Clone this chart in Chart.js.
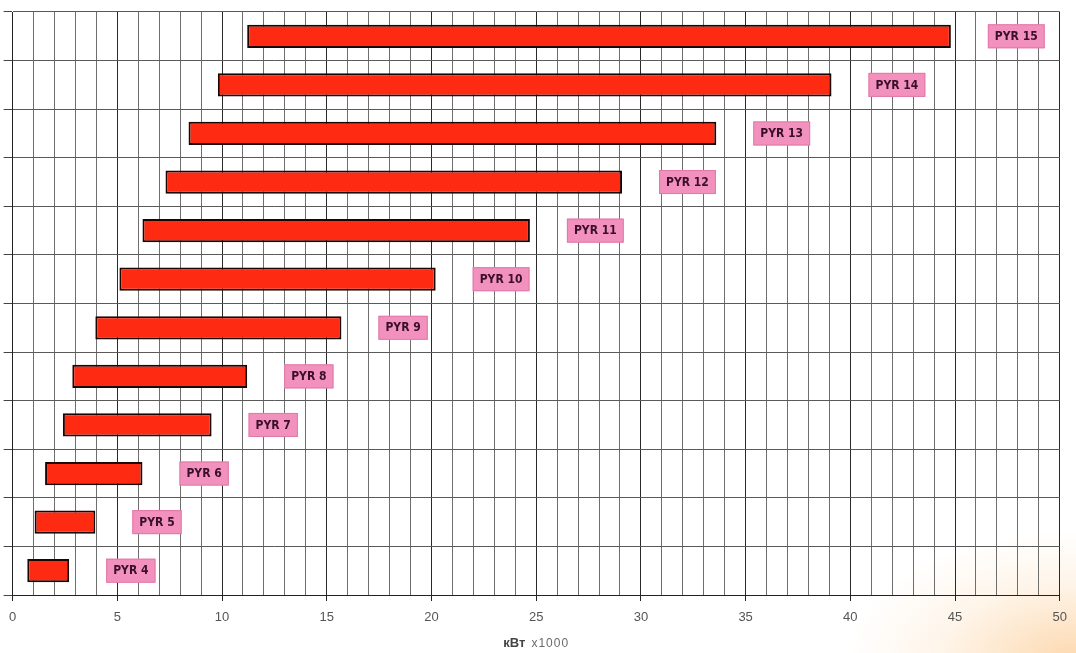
<!DOCTYPE html>
<html>
<head>
<meta charset="utf-8">
<script src="https://cdn.jsdelivr.net/npm/chart.js@4.4.1/dist/chart.umd.min.js"></script>
<style>
  html, body { margin: 0; padding: 0; }
  body {
    width: 1076px; height: 653px; overflow: hidden;
    background:
      radial-gradient(ellipse 230px 130px at 1076px 660px, rgba(252, 200, 140, 0.7), rgba(252, 215, 170, 0.25) 60%, rgba(255, 255, 255, 0) 100%),
      #ffffff;
  }
  #wrap { position: relative; width: 1076px; height: 653px; }
</style>
</head>
<body>
<div id="wrap"><canvas id="chart" width="1076" height="653"></canvas></div>
<script>
// Burner models, top to bottom
const categories = ['PYR 15', 'PYR 14', 'PYR 13', 'PYR 12', 'PYR 11', 'PYR 10',
                    'PYR 9', 'PYR 8', 'PYR 7', 'PYR 6', 'PYR 5', 'PYR 4'];
// Power range of each model, kW x1000
const rangeStart = [11.2, 9.8, 8.4, 7.3, 6.2, 5.1, 3.95, 2.85, 2.4, 1.55, 1.05, 0.7];
const rangeEnd   = [44.8, 39.1, 33.6, 29.1, 24.7, 20.2, 15.7, 11.2, 9.5, 6.2, 3.95, 2.7];
// Axis
const axisMin = 0;
const axisMax = 50;
const labelEvery = 5;
const axisUnit = 'кВт';
const axisScale = 'x1000';

const ranges = categories.map((c, i) => [rangeStart[i], rangeEnd[i]]);

// Pink tag with the model name, placed past the end of each bar
const modelTags = {
  id: 'modelTags',
  afterDatasetsDraw(chart) {
    const ctx = chart.ctx;
    const meta = chart.getDatasetMeta(0);
    ctx.save();
    ctx.font = 'bold 12px "Liberation Sans Narrow", "DejaVu Sans Condensed", "Roboto Condensed", "Liberation Sans", sans-serif';
    ctx.textBaseline = 'middle';
    ctx.textAlign = 'center';
    meta.data.forEach((bar, i) => {
      const text = categories[i];
      const w = ctx.measureText(text).width + 14;
      const h = 24;
      const x0 = bar.x + 37;
      const y0 = bar.y - h / 2;
      ctx.fillStyle = '#f291bd';
      ctx.fillRect(x0, y0, w, h);
      ctx.strokeStyle = '#e07aa8';
      ctx.lineWidth = 1;
      ctx.strokeRect(x0 + 0.5, y0 + 0.5, w - 1, h - 1);
      ctx.fillStyle = '#3a0f2a';
      ctx.fillText(text, x0 + w / 2, bar.y + 0.5);
    });
    ctx.restore();
  }
};

// Axis caption: bold unit followed by the multiplier
const axisCaption = {
  id: 'axisCaption',
  afterDraw(chart) {
    const ctx = chart.ctx;
    const area = chart.chartArea;
    ctx.save();
    const boldFont = 'bold 13px "Liberation Sans", Arial, sans-serif';
    const normFont = '12px "Liberation Sans", Arial, sans-serif';
    ctx.font = boldFont;
    const w1 = ctx.measureText(axisUnit).width;
    ctx.font = normFont;
    if ('letterSpacing' in ctx) ctx.letterSpacing = '1px';
    const w2 = ctx.measureText(axisScale).width;
    const gap = 6;
    const total = w1 + gap + w2;
    const cx = (area.left + area.right) / 2;
    const y = 643;
    let x = cx - total / 2;
    ctx.textBaseline = 'middle';
    ctx.textAlign = 'left';
    ctx.fillStyle = '#6a6a6a';
    ctx.fillText(axisScale, x + w1 + gap, y + 1);
    if ('letterSpacing' in ctx) ctx.letterSpacing = '0px';
    ctx.fillStyle = '#444444';
    ctx.font = boldFont;
    ctx.fillText(axisUnit, x, y);
    ctx.restore();
  }
};

new Chart(document.getElementById('chart'), {
  type: 'bar',
  data: {
    labels: categories,
    datasets: [{
      data: ranges,
      backgroundColor: '#ff2a12',
      borderColor: '#1a0500',
      borderWidth: 2,
      borderSkipped: false,
      categoryPercentage: 1.0,
      barPercentage: 0.48
    }]
  },
  options: {
    indexAxis: 'y',
    responsive: false,
    animation: false,
    layout: { padding: { left: 0, top: 12, right: 13, bottom: 0 } },
    plugins: {
      legend: { display: false },
      tooltip: { enabled: false },
      title: { display: false }
    },
    scales: {
      x: {
        type: 'linear',
        min: axisMin,
        max: axisMax,
        afterFit(scale) { scale.height = 58; },
        afterBuildTicks(scale) {
          const t = [];
          for (let v = axisMin; v <= axisMax; v += 1) t.push({ value: v });
          scale.ticks = t;
        },
        ticks: {
          autoSkip: false,
          maxRotation: 0,
          padding: 9,
          color: '#555555',
          font: { family: '"Liberation Sans", Arial, sans-serif', size: 13 },
          callback: (v) => (v % labelEvery === 0 ? String(v) : '')
        },
        grid: {
          drawTicks: true,
          tickLength: 6,
          lineWidth: 1,
          color: (c) => (c.tick && c.tick.value % labelEvery === 0 ? '#2a2a2a' : '#6e6e6e'),
          tickColor: (c) => (c.tick && c.tick.value % labelEvery === 0 ? '#222222' : 'rgba(0,0,0,0)')
        },
        border: { display: true, color: '#222222', width: 1 }
      },
      y: {
        type: 'category',
        offset: true,
        afterFit(scale) { scale.width = 12; },
        ticks: { display: false },
        grid: {
          offset: true,
          drawTicks: true,
          tickLength: 9,
          lineWidth: 1,
          color: '#5a5a5a',
          tickColor: '#444444'
        },
        border: { display: true, color: '#222222', width: 1 }
      }
    }
  },
  plugins: [modelTags, axisCaption]
});
</script>
</body>
</html>
